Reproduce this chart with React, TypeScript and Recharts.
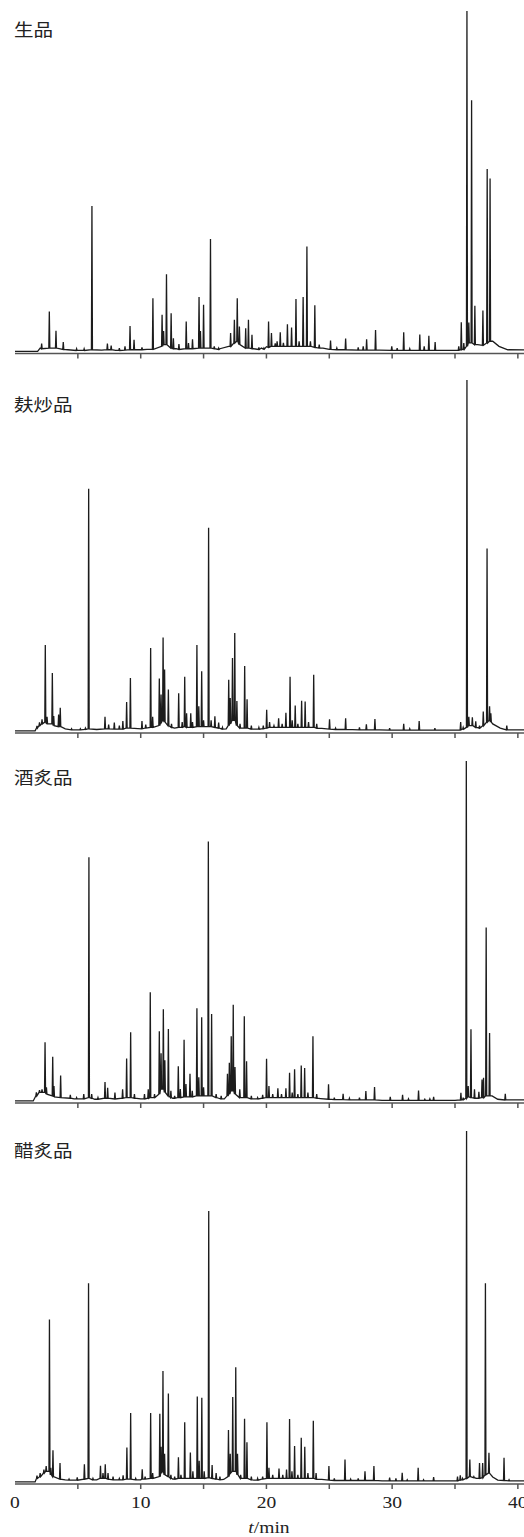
import { LineChart, Line, XAxis, YAxis } from 'recharts';

// [retention time (min), peak height (% of tallest), local baseline]
type Peak = [number, number, number];
// [retention time (min), baseline level]
type Anchor = [number, number];

const sampleNames = ['生品', '麸炒品', '酒炙品', '醋炙品'];
const timeTicks = [0, 5, 10, 15, 20, 25, 30, 35, 40];
const axisTitle = 'min';

const rawPeaks: Peak[] = [
  [2.12, 2.3, 0.8], [2.73, 11.7, 1.0], [3.26, 6.1, 1.0], [3.84, 2.8, 0.6], [4.9, 0.8, 0.3],
  [5.5, 0.8, 0.3], [6.12, 42.7, 0.5], [7.35, 2.3, 0.5], [7.65, 1.7, 0.5], [8.3, 1.0, 0.3],
  [8.75, 1.5, 0.4], [9.15, 7.5, 0.5], [9.47, 3.4, 0.5], [10.1, 1.2, 0.5], [10.97, 15.6, 0.6],
  [11.7, 10.8, 1.5], [11.82, 6.0, 2.0], [12.05, 22.7, 2.0], [12.42, 11.2, 1.0], [12.6, 3.9, 0.8],
  [13.04, 2.2, 0.6], [13.62, 8.8, 0.8], [13.8, 2.5, 0.8], [14.12, 3.6, 0.8], [14.64, 16.0, 1.0],
  [14.75, 6.0, 1.0], [15.0, 13.7, 1.0], [15.55, 33.0, 1.0], [15.85, 1.5, 0.8], [16.2, 1.0, 0.6],
  [17.15, 5.4, 1.5], [17.45, 9.3, 2.5], [17.68, 15.6, 3.0], [17.85, 7.3, 2.0], [18.35, 6.8, 1.0],
  [18.57, 9.3, 1.0], [18.85, 4.9, 0.8], [19.4, 1.2, 0.6], [19.8, 1.0, 0.7], [20.17, 8.8, 1.2],
  [20.4, 5.4, 1.5], [20.7, 2.4, 1.5], [20.85, 3.0, 1.5], [21.1, 5.6, 1.5], [21.35, 2.5, 1.5],
  [21.67, 8.0, 1.5], [22.0, 7.0, 1.5], [22.35, 15.4, 1.5], [22.6, 3.0, 1.5], [22.92, 16.0, 1.5],
  [23.22, 30.8, 1.5], [23.5, 3.0, 1.5], [23.85, 13.6, 1.2], [24.2, 2.0, 1.0], [25.1, 3.2, 0.6],
  [25.6, 1.0, 0.5], [26.3, 3.8, 0.5], [27.3, 1.2, 0.4], [27.7, 1.5, 0.4], [27.97, 3.6, 0.4],
  [28.68, 6.3, 0.4], [29.97, 1.5, 0.3], [30.4, 1.0, 0.3], [30.92, 5.6, 0.3], [31.4, 0.8, 0.3],
  [32.2, 5.0, 0.3], [32.55, 1.5, 0.3], [32.92, 4.6, 0.3], [33.42, 2.8, 0.3], [35.3, 1.5, 0.4],
  [35.5, 8.6, 0.5], [35.7, 2.5, 0.6], [35.95, 100, 1.5], [36.1, 8.5, 2.5], [36.32, 73.8, 2.5],
  [36.58, 13.4, 2.0], [37.22, 12.0, 1.8], [37.56, 53.6, 2.5], [37.79, 50.8, 3.0],
];
const rawBase: Anchor[] = [
  [0, 0], [1.8, 0], [2.0, 1.0], [4.2, 0.5], [5.0, 0.3], [6.9, 0.4], [8.0, 0.3], [10.5, 0.6],
  [12.82, 0.8], [16.3, 0.8], [17.0, 1.5], [19.0, 0.8], [19.6, 1.0], [20.0, 1.4], [24.5, 1.0],
  [25.0, 0.6], [29.0, 0.4], [34.8, 0.3], [35.6, 0.6], [36.8, 2.0], [38.0, 3.0], [38.5, 1.5],
  [39.2, 0.5], [42, 0.4],
];

const branPeaks: Peak[] = [
  [1.75, 1.4, 0.8], [1.95, 2.4, 1.5], [2.15, 3.3, 2.0], [2.41, 24.5, 2.5], [2.55, 4.0, 2.0],
  [2.97, 16.5, 2.0], [3.08, 4.2, 1.5], [3.47, 4.7, 1.2], [3.6, 6.6, 1.2], [4.5, 0.6, 0.3],
  [5.2, 0.6, 0.3], [5.6, 0.8, 0.4], [5.86, 69.0, 0.6], [7.16, 4.0, 0.6], [7.45, 1.8, 0.6],
  [7.9, 2.4, 0.5], [8.3, 1.5, 0.5], [8.58, 2.8, 0.5], [8.88, 8.2, 0.8], [9.18, 15.1, 0.8],
  [10.1, 2.8, 0.6], [10.4, 1.8, 0.8], [10.79, 23.6, 1.0], [10.95, 4.0, 1.0], [11.48, 14.9, 1.5],
  [11.62, 10.4, 2.5], [11.78, 26.6, 3.0], [11.9, 17.5, 2.5], [12.2, 11.8, 1.5], [12.45, 2.0, 1.0],
  [13.02, 10.7, 1.0], [13.3, 2.5, 1.0], [13.5, 15.4, 1.2], [13.65, 5.0, 1.0], [13.98, 5.0, 1.0],
  [14.12, 2.5, 1.0], [14.47, 24.5, 1.2], [14.62, 7.0, 1.2], [14.85, 17.0, 1.2], [15.0, 3.0, 1.2],
  [15.4, 57.9, 1.2], [15.6, 3.0, 1.2], [15.9, 4.2, 1.0], [16.2, 2.4, 0.8], [16.5, 1.0, 0.5],
  [17.0, 14.6, 1.5], [17.12, 9.4, 2.0], [17.3, 20.8, 3.0], [17.48, 27.9, 3.0], [17.65, 8.5, 1.5],
  [17.9, 2.0, 0.8], [18.27, 18.5, 0.8], [18.46, 9.0, 0.8], [18.8, 1.5, 0.5], [19.4, 1.0, 0.5],
  [19.75, 1.5, 0.6], [20.02, 6.0, 0.8], [20.25, 2.5, 1.0], [20.6, 1.5, 1.0], [20.97, 3.6, 1.0],
  [21.25, 2.0, 1.0], [21.55, 5.2, 1.0], [21.88, 15.4, 1.0], [22.05, 3.0, 1.0], [22.29, 7.2, 1.0],
  [22.5, 2.0, 1.0], [22.8, 8.6, 1.0], [23.08, 8.4, 1.0], [23.35, 2.5, 1.0], [23.76, 16.0, 1.0],
  [24.0, 2.0, 0.8], [25.02, 3.3, 0.5], [25.5, 0.8, 0.4], [26.3, 3.6, 0.4], [27.4, 1.0, 0.3],
  [27.95, 1.9, 0.3], [28.63, 3.4, 0.3], [29.8, 0.8, 0.2], [30.92, 2.0, 0.2], [31.4, 0.6, 0.2],
  [32.15, 2.8, 0.2], [33.4, 0.8, 0.2], [35.45, 2.5, 0.3], [35.65, 1.0, 0.5], [35.95, 100, 1.0],
  [36.1, 4.0, 1.5], [36.38, 3.9, 1.5], [36.65, 2.7, 1.0], [36.95, 1.5, 0.8], [37.25, 5.5, 1.5],
  [37.55, 52.0, 2.5], [37.75, 7.0, 3.0], [37.85, 5.0, 2.5], [39.12, 1.5, 0.3],
];
const branBase: Anchor[] = [
  [0, 0], [1.6, 0], [4.0, 0.6], [4.8, 0.3], [6.5, 0.4], [12.7, 0.8], [16.8, 0.6], [19.0, 0.5],
  [19.6, 0.6], [24.4, 0.7], [29.0, 0.3], [35.2, 0.2], [36.8, 0.9], [38.0, 2.0], [38.6, 0.8],
  [39.5, 0.3], [42, 0.3],
];

const winePeaks: Peak[] = [
  [1.7, 2.5, 1.5], [1.95, 3.2, 2.5], [2.15, 3.4, 2.5], [2.39, 17.3, 2.5], [2.5, 4.0, 2.0],
  [3.0, 13.0, 1.5], [3.1, 4.4, 1.2], [3.63, 7.5, 1.0], [4.4, 1.8, 0.8], [4.9, 1.0, 0.6],
  [5.47, 2.0, 0.6], [5.88, 71.7, 1.0], [6.1, 2.0, 0.8], [6.6, 1.0, 0.5], [7.16, 5.6, 0.8],
  [7.37, 3.9, 0.8], [7.95, 2.5, 0.6], [8.56, 3.4, 0.8], [8.88, 12.5, 1.0], [9.2, 20.2, 1.0],
  [9.5, 2.0, 0.8], [10.3, 2.0, 0.6], [10.6, 3.4, 0.8], [10.76, 32.0, 1.0], [11.1, 2.0, 1.0],
  [11.48, 20.5, 2.0], [11.62, 14.0, 3.5], [11.8, 27.0, 3.5], [11.92, 12.0, 2.5], [12.2, 21.2, 1.5],
  [12.4, 3.0, 1.0], [12.7, 1.5, 0.8], [12.99, 10.2, 1.0], [13.15, 3.5, 1.0], [13.45, 18.0, 1.2],
  [13.6, 5.0, 1.2], [13.92, 8.0, 1.2], [14.1, 3.0, 1.2], [14.47, 27.3, 1.5], [14.62, 7.0, 1.5],
  [14.85, 24.6, 1.5], [15.0, 4.0, 1.5], [15.38, 76.3, 1.5], [15.64, 25.6, 1.5], [16.0, 2.0, 1.0],
  [16.4, 1.5, 0.6], [16.9, 8.0, 1.5], [17.05, 11.2, 2.0], [17.2, 19.0, 3.0], [17.36, 28.3, 3.0],
  [17.5, 10.0, 2.0], [17.88, 3.4, 1.0], [18.24, 24.9, 1.0], [18.42, 11.7, 1.0], [18.8, 1.5, 0.6],
  [19.3, 1.0, 0.6], [19.7, 1.8, 0.8], [20.01, 12.4, 1.0], [20.2, 4.4, 1.0], [20.5, 2.0, 1.0],
  [20.91, 3.7, 1.0], [21.2, 2.0, 1.0], [21.55, 3.7, 1.0], [21.84, 8.3, 1.0], [22.05, 2.5, 1.0],
  [22.24, 9.3, 1.0], [22.5, 2.0, 1.0], [22.77, 10.4, 1.0], [23.04, 9.7, 1.0], [23.3, 2.5, 1.0],
  [23.7, 19.0, 1.0], [24.0, 2.0, 0.8], [24.94, 4.9, 0.5], [25.4, 1.0, 0.4], [26.1, 2.1, 0.4],
  [26.6, 0.8, 0.3], [27.4, 1.0, 0.3], [27.91, 2.9, 0.3], [28.6, 4.1, 0.3], [29.85, 1.2, 0.2],
  [30.83, 1.8, 0.2], [31.3, 0.6, 0.2], [32.1, 3.1, 0.2], [32.6, 0.5, 0.2], [33.0, 0.6, 0.2],
  [33.3, 1.2, 0.2], [35.47, 2.4, 0.3], [35.65, 1.0, 0.4], [35.9, 100, 0.8], [36.05, 4.4, 1.2],
  [36.27, 21.1, 1.0], [36.55, 3.4, 0.8], [36.9, 2.7, 0.8], [37.15, 6.3, 1.0], [37.27, 6.8, 1.0],
  [37.48, 51.0, 1.5], [37.75, 20.0, 1.5], [39.0, 2.1, 0.3],
];
const wineBase: Anchor[] = [
  [0, 0], [1.45, 0], [4.7, 0.6], [6.35, 0.5], [10.0, 0.6], [12.55, 0.8], [16.2, 0.8], [16.65, 0.6],
  [19.0, 0.6], [24.3, 0.7], [29.2, 0.2], [35.0, 0.2], [37.95, 1.5], [38.4, 0.5], [42, 0.3],
];

const vinegarPeaks: Peak[] = [
  [1.75, 1.8, 1.0], [2.0, 2.5, 1.5], [2.3, 3.5, 2.5], [2.48, 4.5, 3.0], [2.74, 46.3, 3.0],
  [2.85, 4.0, 2.0], [3.02, 9.0, 1.5], [3.58, 5.4, 0.8], [4.3, 0.8, 0.5], [4.95, 1.3, 0.5],
  [5.52, 5.0, 0.8], [5.85, 56.6, 1.0], [6.2, 1.0, 0.6], [6.8, 4.6, 1.0], [7.0, 2.5, 1.0],
  [7.18, 5.0, 1.0], [7.4, 2.5, 0.8], [7.8, 1.5, 0.6], [8.3, 1.0, 0.6], [8.6, 1.9, 0.6],
  [8.9, 9.8, 0.8], [9.2, 19.6, 0.8], [9.6, 1.0, 0.6], [10.12, 3.6, 0.8], [10.35, 1.5, 0.8],
  [10.79, 19.6, 1.0], [10.95, 2.5, 1.0], [11.52, 19.4, 1.5], [11.62, 10.0, 2.5], [11.77, 31.6, 3.0],
  [11.9, 8.0, 2.0], [12.2, 25.2, 1.5], [12.4, 2.0, 1.0], [12.7, 1.5, 0.8], [13.0, 7.0, 1.0],
  [13.2, 2.0, 1.0], [13.5, 17.0, 1.0], [13.95, 8.4, 1.0], [14.15, 3.0, 1.0], [14.5, 24.3, 1.0],
  [14.65, 6.0, 1.0], [14.86, 24.0, 1.0], [15.05, 3.0, 1.0], [15.41, 77.2, 1.2], [15.68, 4.8, 1.0],
  [16.0, 2.5, 0.8], [16.3, 1.5, 0.6], [16.98, 14.8, 1.5], [17.12, 8.0, 2.5], [17.32, 24.2, 3.0],
  [17.56, 32.7, 3.0], [17.7, 8.0, 2.0], [17.95, 2.0, 1.0], [18.26, 18.0, 1.0], [18.45, 11.3, 1.0],
  [18.8, 1.5, 0.6], [19.3, 1.0, 0.5], [19.7, 1.5, 0.8], [20.04, 17.0, 1.0], [20.2, 4.0, 1.0],
  [20.5, 2.0, 1.0], [21.0, 3.8, 1.0], [21.3, 2.0, 1.0], [21.6, 3.5, 1.0], [21.84, 17.9, 1.0],
  [22.03, 3.0, 1.0], [22.24, 10.2, 1.0], [22.5, 2.0, 1.0], [22.77, 12.6, 1.0], [23.05, 10.0, 1.0],
  [23.3, 2.5, 1.0], [23.73, 17.4, 1.0], [23.95, 2.5, 0.8], [24.97, 4.5, 0.5], [25.4, 1.0, 0.4],
  [26.25, 6.4, 0.4], [26.7, 0.8, 0.4], [27.3, 1.0, 0.4], [27.84, 3.0, 0.4], [28.55, 4.5, 0.4],
  [29.8, 1.2, 0.3], [30.3, 1.0, 0.3], [30.8, 2.6, 0.3], [31.2, 0.6, 0.3], [32.07, 4.0, 0.3],
  [32.5, 0.6, 0.3], [33.3, 1.4, 0.3], [35.2, 1.5, 0.3], [35.42, 1.9, 0.5], [35.6, 1.0, 0.6],
  [35.92, 100, 1.0], [36.18, 6.4, 1.5], [36.5, 1.5, 1.2], [36.95, 5.4, 1.0], [37.2, 5.4, 1.2],
  [37.42, 56.6, 2.0], [37.7, 8.3, 2.5], [38.9, 6.9, 0.4], [39.3, 0.6, 0.3],
];
const vinegarBase: Anchor[] = [
  [0, 0], [1.6, 0], [4.0, 0.6], [4.6, 0.5], [6.5, 0.6], [10.0, 0.6], [12.55, 0.8], [16.6, 0.7],
  [19.0, 0.5], [24.4, 0.7], [29.2, 0.3], [34.8, 0.3], [36.7, 1.0], [38.0, 1.4], [38.4, 0.5],
  [39.8, 0.3], [42, 0.3],
];

// each peak becomes a narrow spike: baseline -> apex -> baseline
const SPIKE_HALF_WIDTH = 0.04;

function buildTrace(peaks: Peak[], base: Anchor[]) {
  const pts = base.map(([t, v]) => ({ t, v }));
  peaks.forEach(([t, h, b]) => {
    pts.push({ t: t - SPIKE_HALF_WIDTH, v: b }, { t, v: h }, { t: t + SPIKE_HALF_WIDTH, v: b });
  });
  return pts.sort((a, b) => a.t - b.t);
}

const traces = [
  buildTrace(rawPeaks, rawBase),
  buildTrace(branPeaks, branBase),
  buildTrace(winePeaks, wineBase),
  buildTrace(vinegarPeaks, vinegarBase),
];

// page layout: top of the tallest peak, axis line and label baseline of each panel
const layout = [
  { top: 11, axisY: 353.5, labelY: 36 },
  { top: 380, axisY: 733, labelY: 411 },
  { top: 761, axisY: 1103, labelY: 784 },
  { top: 1131, axisY: 1484, labelY: 1157 },
];

const PAGE_W = 524;
const PAGE_H = 1537;
const PLOT_LEFT = 15;
const PLOT_W = 528; // 0..42 min
const CHART_W = PLOT_LEFT + PLOT_W + 5;
const AXIS_COLOR = '#555';
const SERIF = "'Liberation Serif', 'Times New Roman', serif";
const STRETCH = 'scale(1.15, 1)';

function TimeTick(props: any) {
  const { x, y, payload, showLabels } = props;
  const v = payload.value;
  return (
    <g>
      {v !== 0 && <line x1={x} x2={x} y1={y} y2={y + 5} stroke={AXIS_COLOR} strokeWidth={1.5} />}
      {showLabels && v % 10 === 0 && (
        <text
          transform={`translate(${x}, ${y + 24}) ${STRETCH}`}
          textAnchor="middle"
          fontFamily={SERIF}
          fontSize={17}
          fill="#222"
        >
          {v}
        </text>
      )}
    </g>
  );
}

function Chromatogram({ data, top, axisY, showLabels }: { data: { t: number; v: number }[]; top: number; axisY: number; showLabels: boolean }) {
  const plotH = axisY - top;
  const axisH = showLabels ? 34 : 10;
  return (
    <div style={{ position: 'absolute', left: 0, top }}>
      <LineChart
        width={CHART_W}
        height={plotH + axisH}
        data={data}
        margin={{ top: 0, right: CHART_W - PLOT_LEFT - PLOT_W, bottom: 0, left: PLOT_LEFT }}
      >
        <XAxis
          dataKey="t"
          type="number"
          domain={[0, 42]}
          ticks={timeTicks}
          interval={0}
          height={axisH}
          allowDataOverflow
          axisLine={{ stroke: AXIS_COLOR, strokeWidth: 1.5 }}
          tickLine={false}
          tickSize={0}
          tickMargin={0}
          tick={(p: any) => <TimeTick {...p} showLabels={showLabels} />}
        />
        <YAxis hide domain={[-0.6, 100]} allowDataOverflow />
        <Line
          type="linear"
          dataKey="v"
          stroke="#1c1c1c"
          strokeWidth={1.3}
          dot={false}
          isAnimationActive={false}
        />
      </LineChart>
    </div>
  );
}

export default function App() {
  return (
    <div
      style={{
        position: 'absolute',
        left: 0,
        top: 0,
        width: PAGE_W,
        height: PAGE_H,
        overflow: 'hidden',
        background: '#fff',
      }}
    >
      {traces.map((data, i) => (
        <Chromatogram
          key={sampleNames[i]}
          data={data}
          top={layout[i].top}
          axisY={layout[i].axisY}
          showLabels={i === traces.length - 1}
        />
      ))}
      <svg
        width={PAGE_W}
        height={PAGE_H}
        style={{ position: 'absolute', left: 0, top: 0, pointerEvents: 'none' }}
      >
        {sampleNames.map((name, i) => (
          <text
            key={name}
            transform={`translate(14, ${layout[i].labelY}) ${STRETCH}`}
            fontFamily="'Noto Sans CJK SC', sans-serif"
            fontSize={17}
            fill="#222"
          >
            {name}
          </text>
        ))}
        <text
          transform={`translate(269, 1533) ${STRETCH}`}
          textAnchor="middle"
          fontFamily={SERIF}
          fontSize={17}
          fill="#222"
        >
          <tspan fontStyle="italic">t</tspan>/{axisTitle}
        </text>
      </svg>
    </div>
  );
}
